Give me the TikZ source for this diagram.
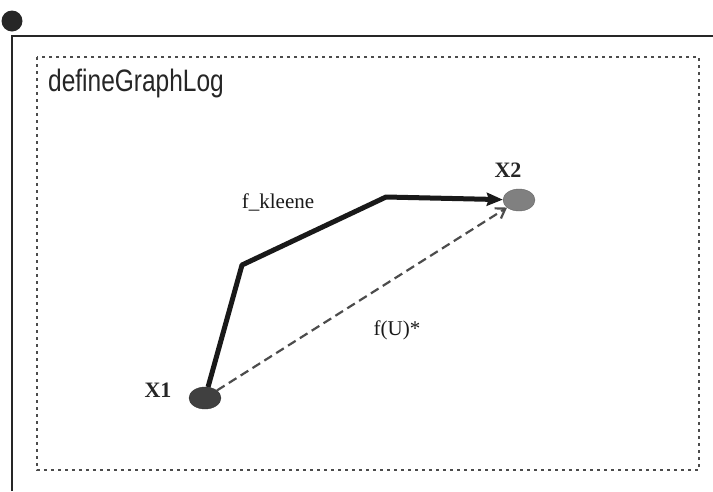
\documentclass[tikz,border=0pt]{standalone}
\usepackage{fontspec}
\setmainfont{Liberation Serif}
\setsansfont{Liberation Sans}
\usetikzlibrary{shapes.geometric, arrows.meta, positioning}
\tikzstyle{vertex} = [ellipse, minimum width=32pt, minimum height=22pt, inner sep=0pt, draw=black!80]
\tikzstyle{vlabel} = [font=\fontsize{22}{24}\selectfont\bfseries, text=black!85]
\tikzstyle{elabel} = [font=\fontsize{21}{24}\selectfont, text=black!90]
\tikzstyle{kleene} = [line width=5pt, black!90, -{Stealth[length=16pt,width=13pt,inset=2pt]}]
\tikzstyle{star} = [line width=2.2pt, black!70, dash pattern=on 9pt off 5pt, -{Straight Barb[length=9pt,width=12pt]}]
\tikzstyle{frame} = [line width=2.6pt, black!85]
\tikzstyle{region} = [line width=2.8pt, black!70, dash pattern=on 2.6pt off 4.4pt]

\begin{document}
\begin{tikzpicture}[x=1pt, y=-1pt]
\useasboundingbox (0,0) rectangle (713,491);

% Outer frame
\coordinate (corner) at (12,36);
\fill[black!85] (12,21) circle (10.5);
\draw[frame] (12,491) -- (corner) -- (713,36);

% Graph region
\draw[region] (37,57) rectangle (699,470);
\node (title) [anchor=base west, font=\sffamily\fontsize{31}{34}\selectfont, text=black!85, xscale=0.79, inner sep=0pt] at (48,91) {defineGraphLog};

% Vertices
\node (x1) [vertex, fill=black!75] at (205,398) {};
\node (x2) [vertex, fill=black!50, draw=black!60] at (519,200) {};
\node (x1lab) [vlabel] at (158,390) {X1};
\node (x2lab) [vlabel] at (508,170) {X2};

% Edges
\coordinate (bend1) at (242,265);
\coordinate (bend2) at (386,197);
\draw[star] (x1) -- (x2);
\draw[kleene, line join=round] (x1) -- (bend1) -- (bend2) -- (x2);
\node (kleenelab) [elabel] at (278,202) {f\_kleene};
\node (starlab) [elabel] at (397,330) {f(U)*};

\end{tikzpicture}
\end{document}
